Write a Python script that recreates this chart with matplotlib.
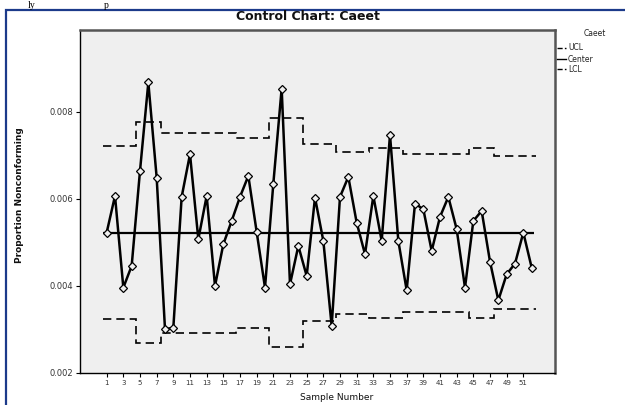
import numpy as np
import matplotlib
matplotlib.use("Agg")
import matplotlib.pyplot as plt
from matplotlib.lines import Line2D
from matplotlib.patches import Rectangle

# ---- data ----
samples = list(range(1, 53))
proportion = [0.005225, 0.006069, 0.003961, 0.004460, 0.006644, 0.008674, 0.006490,
              0.003005, 0.003041, 0.006046, 0.007028, 0.005074, 0.006069, 0.004000,
              0.004959, 0.005494, 0.006046, 0.006529, 0.005241, 0.003961, 0.006352,
              0.008536, 0.004039, 0.004920, 0.004230, 0.006030, 0.005034, 0.003080,
              0.006046, 0.006506, 0.005455, 0.004729, 0.006069, 0.005034, 0.007471,
              0.005034, 0.003901, 0.005892, 0.005763, 0.004805, 0.005586, 0.006046,
              0.005304, 0.003961, 0.005494, 0.005724, 0.004559, 0.003671, 0.004269,
              0.004513, 0.005225, 0.004421]
center = 0.005225
ucl = ([0.007219] * 4 + [0.007770] * 3 + [0.007524] * 9 + [0.007409] * 4 +
       [0.007855] * 4 + [0.007264] * 4 + [0.007087] * 4 + [0.007180] * 4 +
       [0.007041] * 8 + [0.007180] * 3 + [0.006989] * 5)
lcl = ([0.003231] * 4 + [0.002680] * 3 + [0.002926] * 9 + [0.003041] * 4 +
       [0.002595] * 4 + [0.003186] * 4 + [0.003363] * 4 + [0.003270] * 4 +
       [0.003409] * 8 + [0.003270] * 3 + [0.003461] * 5)
yticks = [0.002, 0.004, 0.006, 0.008]
xticks = list(range(1, 53, 2))
title = "Control Chart: Caeet"
legend_title = "Caeet"
legend_labels = ["UCL", "Center", "LCL"]

W, H = 625, 405
fig = plt.figure(figsize=(W / 100, H / 100), dpi=100)
fig.patch.set_facecolor("white")

def fx(px):
    return px / W

def fy(py):
    return 1 - py / H

# document frame and text fragment above it
fig.patches.append(Rectangle((fx(6), fy(640)), fx(640), 630 / H, transform=fig.transFigure,
                             fill=False, edgecolor="#1c3a8a", linewidth=1.6))
fig.text(fx(28), fy(1), "ly", fontsize=7, family="Liberation Serif", va="top", color="black")
fig.text(fx(104), fy(1), "p", fontsize=7, family="Liberation Serif", va="top", color="black")

ax = fig.add_axes([fx(80), fy(373), fx(475), 343 / H])
ax.set_facecolor("#efefef")
ax.set_xlim(-2.2, 54.8)
ax.set_ylim(0.002, 0.00988)

edges = np.arange(0.5, len(samples) + 1.0, 1.0)
dash = (0, (5, 3))
ax.stairs(ucl, edges, baseline=None, color="black", linewidth=1.2, linestyle=dash)
ax.stairs(lcl, edges, baseline=None, color="black", linewidth=1.2, linestyle=dash)
ax.hlines(center, 0.6, 52.3, color="black", linewidth=1.6)
ax.plot(samples, proportion, color="black", linewidth=1.8, marker="D", markersize=4,
        markerfacecolor="#efefef", markeredgecolor="black", markeredgewidth=0.9, zorder=3)

ax.set_yticks(yticks)
ax.set_yticklabels([f"{v:.3f}" for v in yticks], fontsize=6, color="#333333")
ax.set_xticks(xticks)
ax.set_xticklabels([str(v) for v in xticks], fontsize=5, color="#333333")
ax.tick_params(axis="both", direction="out", length=3, width=0.8, pad=2)

for s in ["left", "bottom"]:
    ax.spines[s].set_color("black")
    ax.spines[s].set_linewidth(1.0)
for s in ["top", "right"]:
    ax.spines[s].set_color("#555555")
    ax.spines[s].set_linewidth(1.8)

fig.text(fx(308), fy(17), title, fontsize=9, ha="center", va="center", color="#111111",
         fontweight="semibold")
fig.text(fx(20), fy(195), "Proportion Nonconforming", fontsize=6.5, rotation=90,
         ha="center", va="center", color="#111111", fontweight="bold")
fig.text(fx(337), fy(398), "Sample Number", fontsize=6.5, ha="center", va="center", color="#111111")

# legend drawn outside the plot
fig.text(fx(595), fy(33), legend_title, fontsize=5.5, ha="center", va="center", color="#222222")
styles = ["--", "-", "--"]
ys = [48, 59, 69]
for lab, st, yy in zip(legend_labels, styles, ys):
    fig.lines.append(Line2D([fx(557), fx(566)], [fy(yy), fy(yy)], transform=fig.transFigure,
                            color="black", linewidth=1.0, linestyle=st))
    fig.text(fx(568), fy(yy), lab, fontsize=5.5, ha="left", va="center", color="#222222")

fig.savefig("out.png", dpi=100, facecolor="white")
